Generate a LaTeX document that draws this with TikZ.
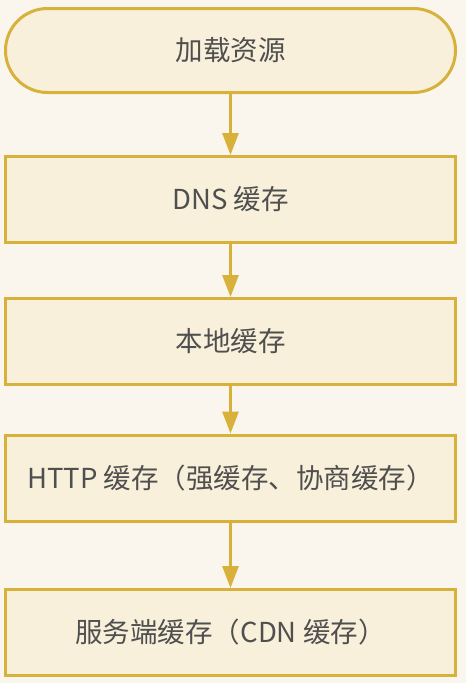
\documentclass[tikz,border=0pt]{standalone}
\usepackage{fontspec}
\setmainfont{Noto Sans CJK SC}
\usetikzlibrary{arrows.meta}
\definecolor{bg}{HTML}{FAF6EE}
\definecolor{gold}{HTML}{D8B13A}
\definecolor{boxfill}{HTML}{F8F0DA}
\definecolor{txt}{HTML}{4F4F4F}
\begin{document}
\begin{tikzpicture}[x=1pt,y=-1pt,
  stepbox/.style={draw=gold, line width=3pt, fill=boxfill, minimum width=450pt,
    minimum height=86pt, inner sep=0pt, text=txt, font=\fontsize{27.5}{32}\selectfont},
  startbox/.style={stepbox, minimum height=84pt, rounded corners=42pt},
  flow/.style={draw=gold, line width=3pt, -{Triangle[length=22pt,width=16pt]}}]
\fill[bg] (0,0) rectangle (466,683);
\useasboundingbox (0,0) rectangle (466,683);
\node[startbox] (a) at (230.5,50.5) {加载资源};
\node[stepbox] (b) at (230.5,199.5) {DNS 缓存};
\node[stepbox] (c) at (230.5,341.5) {本地缓存};
\node[stepbox] (d) at (230.5,478) {HTTP 缓存（强缓存、协商缓存）};
\node[stepbox] (e) at (230.5,632.5) {服务端缓存（CDN 缓存）};
\draw[flow] (a) -- (b);
\draw[flow] (b) -- (c);
\draw[flow] (c) -- (d);
\draw[flow] (d) -- (e);
\end{tikzpicture}
\end{document}
